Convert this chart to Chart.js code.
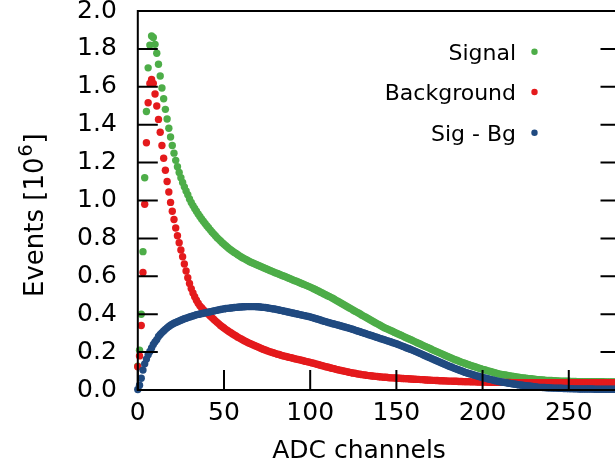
<!DOCTYPE html>
<html>
<head>
<meta charset="utf-8">
<script src="https://cdn.jsdelivr.net/npm/chart.js@4.4.1/dist/chart.umd.min.js"></script>
<style>
  html, body { margin: 0; padding: 0; background: #fff; overflow: hidden; }
  #wrap { width: 615px; height: 469px; overflow: hidden; }
</style>
</head>
<body>
<div id="wrap"><canvas id="graphCanvas" width="640" height="469"></canvas></div>
<script>
// ADC channel of every point: 0, 1, 2 ... 280
const channels = Array.from({length: 281}, (_, i) => i)

// Events [10^6], one value per channel
const signal = [
  0.125, 0.21, 0.40, 0.73, 1.12, 1.47, 1.70, 1.82, 1.868, 1.86,
  1.824, 1.777, 1.719, 1.657, 1.594, 1.537, 1.481, 1.43, 1.381, 1.335,
  1.29, 1.25, 1.212, 1.178, 1.148, 1.12, 1.095, 1.072, 1.05, 1.03,
  1.008, 0.99, 0.973, 0.958, 0.943, 0.929, 0.916, 0.903, 0.891, 0.879,
  0.867, 0.856, 0.845, 0.834, 0.824, 0.814, 0.804, 0.795, 0.786, 0.777,
  0.769, 0.761, 0.753, 0.746, 0.739, 0.732, 0.726, 0.72, 0.714, 0.708,
  0.702, 0.697, 0.692, 0.687, 0.682, 0.677, 0.673, 0.669, 0.665, 0.661,
  0.657, 0.653, 0.649, 0.645, 0.641, 0.637, 0.633, 0.629, 0.626, 0.622,
  0.618, 0.615, 0.611, 0.607, 0.603, 0.6, 0.596, 0.592, 0.589, 0.585,
  0.581, 0.577, 0.574, 0.57, 0.566, 0.562, 0.558, 0.555, 0.551, 0.547,
  0.543, 0.539, 0.534, 0.53, 0.525, 0.521, 0.516, 0.512, 0.507, 0.503,
  0.498, 0.494, 0.489, 0.484, 0.479, 0.473, 0.468, 0.463, 0.458, 0.453,
  0.447, 0.442, 0.437, 0.432, 0.427, 0.421, 0.416, 0.411, 0.406, 0.401,
  0.395, 0.39, 0.385, 0.38, 0.375, 0.369, 0.364, 0.359, 0.354, 0.349,
  0.344, 0.339, 0.334, 0.329, 0.325, 0.321, 0.317, 0.313, 0.309, 0.304,
  0.3, 0.296, 0.292, 0.288, 0.283, 0.279, 0.275, 0.271, 0.267, 0.263,
  0.258, 0.254, 0.25, 0.246, 0.242, 0.237, 0.233, 0.229, 0.225, 0.221,
  0.216, 0.212, 0.208, 0.204, 0.2, 0.196, 0.192, 0.188, 0.184, 0.18,
  0.176, 0.172, 0.168, 0.164, 0.16, 0.157, 0.153, 0.149, 0.146, 0.143,
  0.14, 0.136, 0.133, 0.13, 0.127, 0.124, 0.121, 0.118, 0.115, 0.112,
  0.109, 0.107, 0.104, 0.101, 0.099, 0.096, 0.094, 0.091, 0.089, 0.086,
  0.084, 0.082, 0.081, 0.079, 0.078, 0.076, 0.074, 0.073, 0.071, 0.07,
  0.068, 0.067, 0.065, 0.064, 0.063, 0.062, 0.061, 0.06, 0.059, 0.058,
  0.057, 0.056, 0.055, 0.054, 0.053, 0.053, 0.052, 0.051, 0.051, 0.05,
  0.05, 0.049, 0.049, 0.048, 0.048, 0.047, 0.047, 0.047, 0.046, 0.046,
  0.046, 0.045, 0.045, 0.045, 0.045, 0.044, 0.044, 0.044, 0.044, 0.044,
  0.044, 0.044, 0.044, 0.044, 0.044, 0.044, 0.044, 0.044, 0.044, 0.044,
  0.044, 0.043, 0.043, 0.043, 0.043, 0.043, 0.043, 0.043, 0.043, 0.043,
  0.043
]

const background = [
  0.123, 0.18, 0.34, 0.62, 0.98, 1.305, 1.516, 1.618, 1.639, 1.618,
  1.562, 1.499, 1.428, 1.36, 1.29, 1.223, 1.16, 1.1, 1.045, 0.99,
  0.943, 0.9, 0.855, 0.814, 0.777, 0.739, 0.703, 0.665, 0.628, 0.592,
  0.562, 0.535, 0.512, 0.492, 0.474, 0.458, 0.444, 0.434, 0.424, 0.415,
  0.407, 0.4, 0.391, 0.382, 0.373, 0.365, 0.357, 0.349, 0.341, 0.334,
  0.327, 0.32, 0.314, 0.308, 0.302, 0.296, 0.29, 0.285, 0.279, 0.274,
  0.269, 0.264, 0.259, 0.255, 0.25, 0.246, 0.242, 0.238, 0.234, 0.23,
  0.226, 0.222, 0.218, 0.214, 0.211, 0.207, 0.204, 0.201, 0.198, 0.195,
  0.192, 0.189, 0.187, 0.184, 0.181, 0.179, 0.177, 0.174, 0.172, 0.17,
  0.168, 0.165, 0.163, 0.161, 0.159, 0.157, 0.154, 0.152, 0.15, 0.148,
  0.146, 0.143, 0.141, 0.138, 0.136, 0.133, 0.131, 0.128, 0.126, 0.123,
  0.121, 0.119, 0.116, 0.114, 0.112, 0.109, 0.107, 0.105, 0.103, 0.101,
  0.099, 0.097, 0.095, 0.093, 0.091, 0.089, 0.088, 0.086, 0.084, 0.083,
  0.081, 0.08, 0.079, 0.077, 0.076, 0.075, 0.074, 0.073, 0.072, 0.071,
  0.07, 0.069, 0.068, 0.067, 0.067, 0.066, 0.065, 0.064, 0.064, 0.063,
  0.063, 0.062, 0.062, 0.061, 0.061, 0.06, 0.06, 0.059, 0.058, 0.058,
  0.057, 0.057, 0.056, 0.056, 0.055, 0.055, 0.054, 0.053, 0.053, 0.052,
  0.052, 0.051, 0.051, 0.05, 0.05, 0.049, 0.049, 0.049, 0.048, 0.048,
  0.047, 0.047, 0.047, 0.046, 0.046, 0.046, 0.045, 0.045, 0.045, 0.044,
  0.044, 0.044, 0.044, 0.043, 0.043, 0.043, 0.043, 0.042, 0.042, 0.042,
  0.042, 0.042, 0.042, 0.041, 0.041, 0.041, 0.041, 0.041, 0.041, 0.04,
  0.04, 0.04, 0.04, 0.04, 0.04, 0.04, 0.04, 0.039, 0.039, 0.039,
  0.039, 0.039, 0.039, 0.039, 0.039, 0.039, 0.039, 0.039, 0.039, 0.039,
  0.039, 0.039, 0.039, 0.039, 0.039, 0.039, 0.039, 0.039, 0.039, 0.039,
  0.039, 0.039, 0.039, 0.039, 0.039, 0.039, 0.039, 0.039, 0.039, 0.039,
  0.039, 0.039, 0.039, 0.039, 0.039, 0.039, 0.039, 0.039, 0.039, 0.039,
  0.039, 0.039, 0.039, 0.039, 0.039, 0.039, 0.039, 0.039, 0.039, 0.039,
  0.039, 0.039, 0.039, 0.039, 0.039, 0.039, 0.039, 0.039, 0.039, 0.039,
  0.039
]

const sigMinusBg = [
  0.003, 0.025, 0.062, 0.105, 0.138, 0.163, 0.186, 0.203, 0.222, 0.24,
  0.254, 0.266, 0.282, 0.293, 0.303, 0.312, 0.32, 0.328, 0.335, 0.342,
  0.347, 0.352, 0.356, 0.36, 0.364, 0.368, 0.372, 0.376, 0.379, 0.382,
  0.385, 0.388, 0.391, 0.394, 0.397, 0.399, 0.401, 0.403, 0.405, 0.407,
  0.409, 0.411, 0.413, 0.415, 0.417, 0.419, 0.421, 0.423, 0.425, 0.427,
  0.428, 0.43, 0.431, 0.432, 0.433, 0.434, 0.435, 0.436, 0.437, 0.438,
  0.438, 0.439, 0.439, 0.44, 0.44, 0.44, 0.44, 0.44, 0.44, 0.439,
  0.439, 0.438, 0.437, 0.436, 0.435, 0.434, 0.432, 0.431, 0.429, 0.428,
  0.426, 0.424, 0.422, 0.42, 0.418, 0.416, 0.414, 0.412, 0.41, 0.408,
  0.406, 0.404, 0.402, 0.4, 0.398, 0.396, 0.394, 0.392, 0.39, 0.388,
  0.386, 0.383, 0.38, 0.377, 0.375, 0.372, 0.369, 0.366, 0.363, 0.361,
  0.358, 0.355, 0.353, 0.35, 0.348, 0.345, 0.343, 0.34, 0.338, 0.335,
  0.333, 0.33, 0.328, 0.325, 0.322, 0.319, 0.316, 0.313, 0.31, 0.307,
  0.304, 0.301, 0.298, 0.295, 0.292, 0.289, 0.286, 0.283, 0.28, 0.277,
  0.274, 0.271, 0.268, 0.265, 0.262, 0.259, 0.256, 0.253, 0.25, 0.247,
  0.244, 0.24, 0.237, 0.233, 0.23, 0.226, 0.222, 0.219, 0.215, 0.212,
  0.208, 0.204, 0.2, 0.196, 0.192, 0.188, 0.184, 0.18, 0.176, 0.172,
  0.168, 0.164, 0.16, 0.156, 0.152, 0.148, 0.144, 0.14, 0.136, 0.132,
  0.128, 0.124, 0.121, 0.117, 0.114, 0.11, 0.107, 0.103, 0.1, 0.096,
  0.093, 0.09, 0.087, 0.085, 0.082, 0.079, 0.076, 0.074, 0.071, 0.069,
  0.066, 0.064, 0.062, 0.059, 0.057, 0.055, 0.053, 0.05, 0.048, 0.046,
  0.044, 0.042, 0.041, 0.039, 0.038, 0.036, 0.035, 0.033, 0.032, 0.03,
  0.029, 0.027, 0.026, 0.025, 0.024, 0.023, 0.022, 0.021, 0.02, 0.019,
  0.017, 0.016, 0.015, 0.014, 0.014, 0.013, 0.013, 0.012, 0.012, 0.011,
  0.011, 0.01, 0.01, 0.01, 0.009, 0.009, 0.009, 0.008, 0.008, 0.008,
  0.007, 0.007, 0.007, 0.006, 0.006, 0.006, 0.005, 0.005, 0.005, 0.005,
  0.005, 0.005, 0.005, 0.005, 0.005, 0.004, 0.004, 0.004, 0.004, 0.004,
  0.004, 0.004, 0.004, 0.004, 0.004, 0.004, 0.004, 0.004, 0.004, 0.004,
  0.004
]

const seriesNames = ['Signal', 'Background', 'Sig - Bg']
const xTickStep = 50
const yTickStep = 0.2

const FONT = "'DejaVu Sans', sans-serif"

function points(values) {
    return channels.map((c, i) => ({x: c, y: values[i]}))
}

// frame, inward ticks, axis titles and legend
const decorations = {
    id: 'decorations',
    afterDatasetsDraw(chart) {
        const {ctx, chartArea: a, scales: {x, y}} = chart
        ctx.save()
        ctx.strokeStyle = '#000'
        ctx.lineWidth = 2
        ctx.strokeRect(a.left, a.top, a.right - a.left, a.bottom - a.top)
        ctx.beginPath()
        x.ticks.forEach(t => {
            const px = x.getPixelForValue(t.value)
            ctx.moveTo(px, a.bottom)
            ctx.lineTo(px, a.bottom - 20)
        })
        y.ticks.forEach(t => {
            const py = y.getPixelForValue(t.value)
            ctx.moveTo(a.left, py)
            ctx.lineTo(a.left + 20, py)
            ctx.moveTo(a.right, py)
            ctx.lineTo(a.right - 20, py)
        })
        ctx.stroke()
        ctx.restore()
    },
    afterDraw(chart) {
        const ctx = chart.ctx
        ctx.save()
        ctx.fillStyle = '#000'

        // x title
        ctx.font = `25px ${FONT}`
        ctx.textAlign = 'center'
        ctx.textBaseline = 'alphabetic'
        ctx.fillText('ADC channels', 359, 458)

        // y title with superscript
        ctx.translate(43, 297)
        ctx.rotate(-Math.PI / 2)
        ctx.textAlign = 'left'
        ctx.font = `26px ${FONT}`
        const main = 'Events [10'
        ctx.fillText(main, 0, 0)
        let w = ctx.measureText(main).width
        ctx.font = `19px ${FONT}`
        ctx.fillText('6', w + 1, -11)
        w += ctx.measureText('6').width + 2
        ctx.font = `26px ${FONT}`
        ctx.fillText(']', w, 0)
        ctx.setTransform(1, 0, 0, 1, 0, 0)

        // legend: text right aligned, marker on the right
        ctx.font = `22px ${FONT}`
        ctx.textAlign = 'right'
        const rows = [51.7, 92, 132.7]
        seriesNames.forEach((name, i) => {
            const ds = chart.data.datasets.find(d => d.label === name)
            ctx.fillStyle = '#000'
            ctx.fillText(name, 516, rows[i] + 8)
            ctx.fillStyle = ds.backgroundColor
            ctx.beginPath()
            ctx.arc(534.5, rows[i], 3.2, 0, Math.PI * 2)
            ctx.fill()
        })
        ctx.restore()
    }
}

const chartdata = {
    datasets: [
        {
            label: seriesNames[0],
            data: points(signal),
            backgroundColor: '#4dad48',
            order: 2
        },
        {
            label: seriesNames[1],
            data: points(background),
            backgroundColor: '#e41a1c',
            order: 1
        },
        {
            label: seriesNames[2],
            data: points(sigMinusBg),
            backgroundColor: '#204a80',
            order: 0
        }
    ]
}

const graphTarget = document.getElementById('graphCanvas')
const scatter = new Chart(graphTarget, {
    type: 'scatter',
    data: chartdata,
    options: {
        responsive: false,
        animation: false,
        devicePixelRatio: 1,
        layout: {padding: {top: 11, right: 19.5, left: 0, bottom: 0}},
        elements: {point: {radius: 3.7, borderWidth: 0, hoverRadius: 3.7}},
        datasets: {scatter: {clip: false}},
        plugins: {legend: {display: false}, tooltip: {enabled: false}},
        scales: {
            x: {
                type: 'linear',
                min: 0,
                max: 280,
                grid: {display: false, drawTicks: false},
                border: {display: false},
                ticks: {
                    stepSize: xTickStep,
                    includeBounds: false,
                    maxRotation: 0,
                    autoSkip: false,
                    padding: 8,
                    color: '#000',
                    font: {family: FONT, size: 25}
                },
                afterFit(scale) {
                    scale.height = 79
                    scale.paddingLeft = 0
                    scale.paddingRight = 0
                }
            },
            y: {
                min: 0,
                max: 2,
                grid: {display: false, drawTicks: false},
                border: {display: false},
                ticks: {
                    stepSize: yTickStep,
                    autoSkip: false,
                    padding: 21,
                    color: '#000',
                    font: {family: FONT, size: 25},
                    callback: v => v.toFixed(1)
                },
                afterFit(scale) {
                    scale.width = 137.8
                    scale.paddingTop = 0
                    scale.paddingBottom = 0
                }
            }
        }
    },
    plugins: [decorations]
})
</script>
</body>
</html>
